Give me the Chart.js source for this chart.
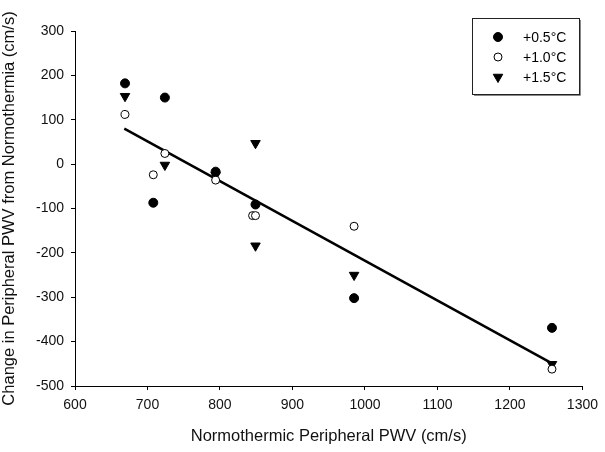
<!DOCTYPE html>
<html>
<head>
<meta charset="utf-8">
<script src="https://cdn.jsdelivr.net/npm/chart.js@4"></script>
<style>
    html, body { margin: 0; padding: 0; background: #fff; }
    #wrap { width: 605px; height: 452px; }
</style>
</head>
<body>
<div id="wrap"><canvas id="pwv-graph" width="605" height="452"></canvas></div>
<script>
// values
const xTicks = [600, 700, 800, 900, 1000, 1100, 1200, 1300];
const yTicks = [-500, -400, -300, -200, -100, 0, 100, 200, 300];

const seriesLabels = ['+0.5°C', '+1.0°C', '+1.5°C'];

const xHalf = [669, 724, 708, 794, 849, 985, 1258];
const yHalf = [182, 150, -87, -17, -91, -302, -369];

const xOne = [669, 724, 708, 794, 845, 849, 985, 1258];
const yOne = [112, 24, -24, -36, -116, -116, -140, -462];

const xOneHalf = [669, 724, 794, 849, 849, 985, 1258];
const yOneHalf = [153, -2, -25, 47, -184, -250, -451];

const fitX = [668, 1258];
const fitY = [80, -449];

const toPoints = (xs, ys) => xs.map((x, i) => ({ x: x, y: ys[i] }));

const fontFamily = '"Liberation Sans", Arial, sans-serif';

// legend box drawn inside the plot, top right
const boxLegend = {
    id: 'boxLegend',
    afterDraw(chart) {
        const ctx = chart.ctx;
        const left = 472, top = 18, right = 579, bottom = 94;
        ctx.save();
        ctx.fillStyle = '#fff';
        ctx.fillRect(left, top, right - left, bottom - top);
        ctx.strokeStyle = '#222';
        ctx.lineWidth = 1;
        ctx.strokeRect(left + 0.5, top + 0.5, right - left, bottom - top);
        // slight shadow on right and bottom edges
        ctx.strokeStyle = '#888';
        ctx.beginPath();
        ctx.moveTo(right + 1.5, top + 2);
        ctx.lineTo(right + 1.5, bottom + 1.5);
        ctx.lineTo(left + 2, bottom + 1.5);
        ctx.stroke();
        ctx.font = '14px ' + fontFamily;
        ctx.textBaseline = 'middle';
        for (let i = 0; i < 3; i++) {
            const ds = chart.data.datasets[i];
            const y = 37 + i * 20;
            ctx.fillStyle = ds.backgroundColor;
            ctx.strokeStyle = ds.borderColor;
            ctx.lineWidth = ds.borderWidth;
            Chart.helpers.drawPoint(ctx, {
                pointStyle: ds.pointStyle,
                radius: ds.pointRadius,
                rotation: ds.rotation || 0,
                borderWidth: ds.borderWidth
            }, 498, y);
            ctx.fillStyle = '#000';
            ctx.fillText(seriesLabels[i], 523, y + 1);
        }
        ctx.restore();
    }
};

const pwvChart = document.getElementById('pwv-graph');

let pwvGraph = new Chart(pwvChart, {
    type: 'scatter',
    data: {
        datasets: [{
            label: seriesLabels[0],
            data: toPoints(xHalf, yHalf),
            pointStyle: 'circle',
            pointRadius: 4.5,
            backgroundColor: '#000',
            borderColor: '#000',
            borderWidth: 1
        }, {
            label: seriesLabels[1],
            data: toPoints(xOne, yOne),
            pointStyle: 'circle',
            pointRadius: 4,
            backgroundColor: '#fff',
            borderColor: '#000',
            borderWidth: 1
        }, {
            label: seriesLabels[2],
            data: toPoints(xOneHalf, yOneHalf),
            pointStyle: 'triangle',
            pointRadius: 5.5,
            rotation: 180,
            backgroundColor: '#000',
            borderColor: '#000',
            borderWidth: 1
        }, {
            type: 'line',
            label: 'fit',
            data: toPoints(fitX, fitY),
            borderColor: '#000',
            borderWidth: 2.5,
            pointRadius: 0,
            fill: false
        }]
    },
    options: {
        responsive: false,
        animation: false,
        layout: {
            padding: { top: 31, right: 22, bottom: 6, left: 0 }
        },
        plugins: {
            legend: { display: false },
            tooltip: { enabled: false }
        },
        scales: {
            x: {
                type: 'linear',
                min: 600,
                max: 1300,
                afterBuildTicks: (axis) => { axis.ticks = xTicks.map(v => ({ value: v })); },
                afterFit: (axis) => { axis.height = 452 - 386 - 6; },
                grid: { drawOnChartArea: false, drawTicks: true, tickLength: 4, color: '#000' },
                border: { color: '#000', width: 1 },
                ticks: {
                    color: '#111',
                    padding: 7,
                    font: { size: 14, family: fontFamily },
                    callback: (v) => String(v)
                },
                title: {
                    display: true,
                    text: 'Normothermic Peripheral PWV (cm/s)',
                    color: '#111',
                    padding: 0,
                    font: { size: 16.5, family: fontFamily }
                }
            },
            y: {
                type: 'linear',
                min: -500,
                max: 300,
                afterBuildTicks: (axis) => { axis.ticks = yTicks.map(v => ({ value: v })); },
                afterFit: (axis) => { axis.width = 75; },
                grid: { drawOnChartArea: false, drawTicks: true, tickLength: 4, color: '#000' },
                border: { color: '#000', width: 1 },
                ticks: {
                    color: '#111',
                    padding: 7,
                    font: { size: 14, family: fontFamily },
                    callback: (v) => String(v)
                },
                title: {
                    display: true,
                    text: 'Change in Peripheral PWV from Normothermia (cm/s)',
                    color: '#111',
                    padding: 0,
                    font: { size: 16.5, family: fontFamily }
                }
            }
        }
    },
    plugins: [boxLegend]
});
</script>
</body>
</html>
